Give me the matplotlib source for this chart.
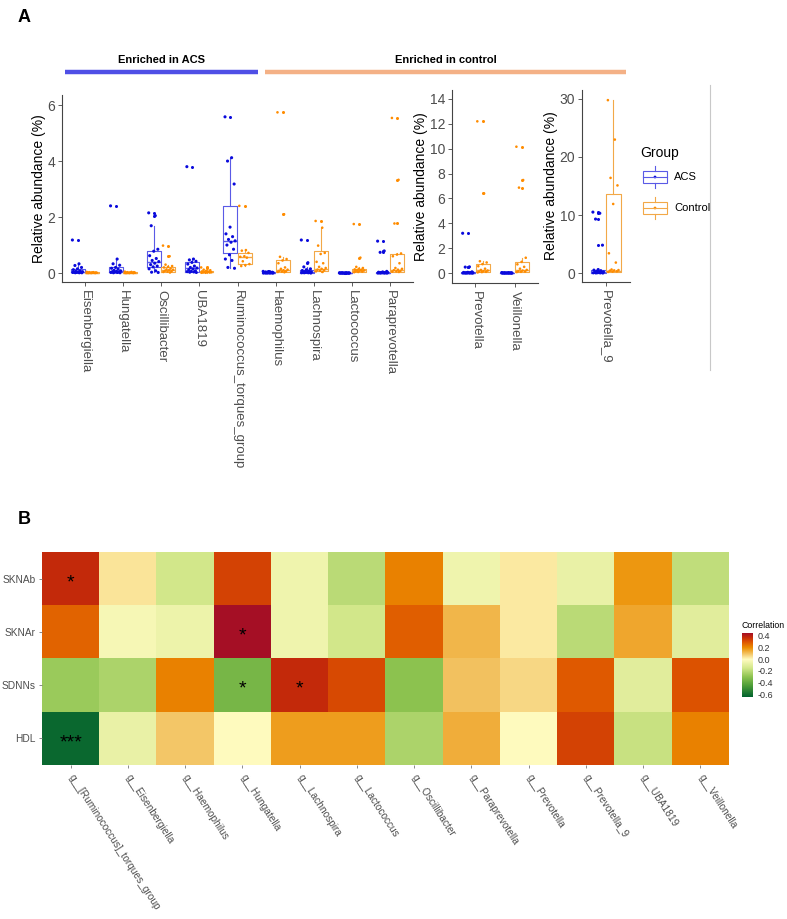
import numpy as np
import matplotlib
matplotlib.use("Agg")
import matplotlib.pyplot as plt
from matplotlib.colors import LinearSegmentedColormap, Normalize
from matplotlib.patches import Rectangle
from matplotlib.lines import Line2D

plt.rcParams['font.family'] = ['Liberation Sans', 'DejaVu Sans']

W, H = 787, 919

# ---------------- Panel A data ----------------
panel1_genera = ["Eisenbergiella", "Hungatella", "Oscillibacter", "UBA1819",
                 "Ruminococcus_torques_group", "Haemophilus", "Lachnospira",
                 "Lactococcus", "Paraprevotella"]
panel2_genera = ["Prevotella", "Veillonella"]
panel3_genera = ["Prevotella_9"]

acs_points = {
    "Eisenbergiella": [1.18, 0.33, 0.27, 0.2, 0.15, 0.12, 0.08, 0.06, 0.05, 0.04, 0.03, 0.03, 0.02, 0.02, 0.01, 0.01, 0.01],
    "Hungatella": [2.4, 0.5, 0.33, 0.28, 0.2, 0.17, 0.14, 0.1, 0.08, 0.06, 0.05, 0.04, 0.03, 0.02, 0.02, 0.01, 0.01],
    "Oscillibacter": [2.15, 2.05, 1.69, 0.85, 0.78, 0.62, 0.52, 0.45, 0.41, 0.35, 0.3, 0.25, 0.22, 0.15, 0.08, 0.03, 0.02],
    "UBA1819": [3.8, 0.5, 0.47, 0.42, 0.38, 0.32, 0.25, 0.2, 0.18, 0.15, 0.12, 0.08, 0.06, 0.05, 0.04, 0.03, 0.02],
    "Ruminococcus_torques_group": [5.58, 4.12, 4.0, 3.18, 1.64, 1.4, 1.3, 1.2, 1.15, 1.1, 1.0, 0.85, 0.65, 0.5, 0.45, 0.2, 0.17],
    "Haemophilus": [0.06, 0.05, 0.04, 0.03, 0.03, 0.02, 0.02, 0.02, 0.01, 0.01, 0.01, 0.01, 0.0, 0.0, 0.0, 0.0, 0.0],
    "Lachnospira": [1.18, 0.37, 0.22, 0.15, 0.12, 0.09, 0.07, 0.05, 0.04, 0.04, 0.03, 0.02, 0.02, 0.01, 0.01, 0.01, 0.0],
    "Lactococcus": [0.01, 0.01, 0.01, 0.0, 0.0, 0.0, 0.0, 0.0, 0.0, 0.0, 0.0, 0.0, 0.0, 0.0, 0.0, 0.0, 0.0],
    "Paraprevotella": [1.14, 0.79, 0.74, 0.06, 0.04, 0.03, 0.02, 0.02, 0.02, 0.01, 0.01, 0.01, 0.01, 0.0, 0.0, 0.0, 0.0],
    "Prevotella": [3.2, 0.5, 0.48, 0.1, 0.06, 0.05, 0.04, 0.03, 0.02, 0.02, 0.01, 0.01, 0.0, 0.0, 0.0, 0.0, 0.0],
    "Veillonella": [0.04, 0.03, 0.02, 0.02, 0.01, 0.01, 0.01, 0.01, 0.0, 0.0, 0.0, 0.0, 0.0, 0.0, 0.0, 0.0, 0.0],
    "Prevotella_9": [10.5, 10.3, 9.3, 4.8, 0.6, 0.5, 0.4, 0.3, 0.2, 0.15, 0.1, 0.08, 0.05, 0.03, 0.02, 0.01, 0.0],
}
ctrl_points = {
    "Eisenbergiella": [0.04, 0.03, 0.03, 0.02, 0.02, 0.02, 0.01, 0.01, 0.01, 0.01, 0.0, 0.0, 0.0, 0.0],
    "Hungatella": [0.05, 0.04, 0.03, 0.03, 0.02, 0.02, 0.01, 0.01, 0.01, 0.01, 0.0, 0.0, 0.0, 0.0],
    "Oscillibacter": [0.98, 0.6, 0.3, 0.25, 0.22, 0.2, 0.16, 0.13, 0.12, 0.1, 0.08, 0.06, 0.05, 0.04, 0.02],
    "UBA1819": [0.2, 0.18, 0.12, 0.1, 0.08, 0.06, 0.05, 0.04, 0.03, 0.03, 0.02, 0.02, 0.01, 0.01],
    "Ruminococcus_torques_group": [2.4, 0.82, 0.8, 0.72, 0.6, 0.58, 0.55, 0.42, 0.32, 0.28, 0.25],
    "Haemophilus": [5.74, 2.1, 0.58, 0.5, 0.45, 0.35, 0.2, 0.15, 0.12, 0.1, 0.08, 0.06, 0.05, 0.04, 0.03],
    "Lachnospira": [1.86, 1.62, 0.98, 0.72, 0.68, 0.4, 0.35, 0.22, 0.18, 0.15, 0.12, 0.1, 0.08, 0.06, 0.04],
    "Lactococcus": [1.75, 0.55, 0.22, 0.18, 0.15, 0.13, 0.12, 0.1, 0.09, 0.08, 0.06, 0.05, 0.04, 0.03],
    "Paraprevotella": [5.54, 3.33, 1.77, 0.7, 0.66, 0.6, 0.35, 0.18, 0.15, 0.12, 0.1, 0.08, 0.06, 0.05, 0.04],
    "Prevotella": [12.2, 6.4, 0.95, 0.85, 0.72, 0.55, 0.35, 0.25, 0.2, 0.15, 0.12, 0.1, 0.08, 0.05],
    "Veillonella": [10.16, 7.48, 6.87, 1.23, 0.9, 0.7, 0.5, 0.35, 0.25, 0.2, 0.15, 0.12, 0.1, 0.08],
    "Prevotella_9": [29.8, 23.0, 16.4, 15.1, 11.9, 3.4, 1.8, 0.6, 0.5, 0.45, 0.4, 0.3, 0.25, 0.2],
}
# box statistics: (whislo, q1, median, q3, whishi)
acs_box = {
    "Eisenbergiella": (0.0, 0.02, 0.04, 0.14, 0.33),
    "Hungatella": (0.0, 0.03, 0.08, 0.2, 0.5),
    "Oscillibacter": (0.02, 0.23, 0.41, 0.8, 1.69),
    "UBA1819": (0.02, 0.05, 0.17, 0.4, 0.5),
    "Ruminococcus_torques_group": (0.17, 0.7, 1.15, 2.4, 4.12),
    "Haemophilus": (0.0, 0.0, 0.01, 0.02, 0.04),
    "Lachnospira": (0.0, 0.01, 0.04, 0.1, 0.22),
    "Lactococcus": (0.0, 0.0, 0.0, 0.0, 0.0),
    "Paraprevotella": (0.0, 0.0, 0.01, 0.03, 0.06),
    "Prevotella": (0.0, 0.0, 0.02, 0.06, 0.12),
    "Veillonella": (0.0, 0.0, 0.01, 0.02, 0.04),
    "Prevotella_9": (0.0, 0.0, 0.12, 0.5, 0.6),
}
ctrl_box = {
    "Eisenbergiella": (0.0, 0.0, 0.01, 0.02, 0.04),
    "Hungatella": (0.0, 0.0, 0.01, 0.03, 0.05),
    "Oscillibacter": (0.02, 0.05, 0.12, 0.22, 0.3),
    "UBA1819": (0.01, 0.02, 0.04, 0.08, 0.12),
    "Ruminococcus_torques_group": (0.25, 0.32, 0.58, 0.7, 0.82),
    "Haemophilus": (0.03, 0.05, 0.12, 0.46, 0.58),
    "Lachnospira": (0.04, 0.09, 0.15, 0.77, 1.62),
    "Lactococcus": (0.03, 0.05, 0.1, 0.16, 0.22),
    "Paraprevotella": (0.04, 0.05, 0.12, 0.68, 0.7),
    "Prevotella": (0.05, 0.1, 0.25, 0.75, 0.95),
    "Veillonella": (0.08, 0.1, 0.24, 0.85, 1.23),
    "Prevotella_9": (0.2, 0.22, 0.4, 13.6, 29.8),
}
panel_ylims = [(-0.32, 6.36), (-0.8, 14.72), (-1.55, 31.55)]
panel_yticks = [[0, 2, 4, 6], [0, 2, 4, 6, 8, 10, 12, 14], [0, 10, 20, 30]]
groups = ["ACS", "Control"]

# ---------------- Panel B data ----------------
heat_rows = ["SKNAb", "SKNAr", "SDNNs", "HDL"]
heat_cols = ["g__[Ruminococcus]_torques_group", "g__Eisenbergiella", "g__Haemophilus",
             "g__Hungatella", "g__Lachnospira", "g__Lactococcus", "g__Oscillibacter",
             "g__Paraprevotella", "g__Prevotella", "g__Prevotella_9", "g__UBA1819",
             "g__Veillonella"]
heat_SKNAb = [0.38, 0.04, -0.15, 0.33, -0.05, -0.2, 0.22, -0.05, 0.03, -0.07, 0.18, -0.19]
heat_SKNAr = [0.27, -0.03, -0.06, 0.45, -0.05, -0.15, 0.28, 0.12, 0.03, -0.2, 0.15, -0.1]
heat_SDNNs = [-0.27, -0.23, 0.22, -0.35, 0.38, 0.32, -0.3, 0.1, 0.06, 0.29, -0.1, 0.3]
heat_HDL = [-0.62, -0.07, 0.09, 0.0, 0.17, 0.17, -0.23, 0.14, 0.0, 0.33, -0.17, 0.22]
star_SKNAb = ["*", "", "", "", "", "", "", "", "", "", "", ""]
star_SKNAr = ["", "", "", "*", "", "", "", "", "", "", "", ""]
star_SDNNs = ["", "", "", "*", "*", "", "", "", "", "", "", ""]
star_HDL = ["***", "", "", "", "", "", "", "", "", "", "", ""]
cbar_ticks = [0.4, 0.2, 0.0, -0.2, -0.4, -0.6]

# ---------------- styling ----------------
ACS_PT = "#0A0ADC"
CTL_PT = "#FF8C00"
ACS_BOX = "#5A5AE6"
CTL_BOX = "#F2A848"
AX_COL = "#444444"
TXT_COL = "#4D4D4D"

def fx(x):
    return x / W

def fy(y):
    return 1 - y / H

def px_axes(l, t, r, b):
    return [fx(l), fy(b), (r - l) / W, (b - t) / H]

fig = plt.figure(figsize=(W / 100, H / 100), dpi=100)

fig.text(fx(18), fy(17), "A", fontsize=13, fontweight="bold", va="center", ha="left")
fig.text(fx(18), fy(520), "B", fontsize=13, fontweight="bold", va="center", ha="left")

# header bars
fig.add_artist(Line2D([fx(65), fx(258)], [fy(72), fy(72)], color="#4F4FE6", lw=3.2, solid_capstyle="butt"))
fig.add_artist(Line2D([fx(265), fx(626)], [fy(72), fy(72)], color="#F4B186", lw=3.2, solid_capstyle="butt"))
fig.text(fx(162), fy(60), "Enriched in ACS", fontsize=8, fontweight="bold", ha="center", va="center")
fig.text(fx(446), fy(60), "Enriched in control", fontsize=8, fontweight="bold", ha="center", va="center")

# gray separator
fig.add_artist(Line2D([fx(710), fx(710)], [fy(85), fy(370)], color="#C8C8C8", lw=0.8))

axes_px = [(62, 95, 413, 282), (452, 90, 538, 283), (582, 90, 630, 282)]
panels = [panel1_genera, panel2_genera, panel3_genera]

golden = 0.6180339887

for pi, (genera, rect) in enumerate(zip(panels, axes_px)):
    ax = fig.add_axes(px_axes(*rect))
    n = len(genera)
    for gi, g in enumerate(genera):
        xc = gi + 1
        for grp, pts_d, box_d, pcol, bcol, off in [
            ("ACS", acs_points, acs_box, ACS_PT, ACS_BOX, -0.1875),
            ("Control", ctrl_points, ctrl_box, CTL_PT, CTL_BOX, 0.1875)]:
            lo, q1, med, q3, hi = box_d[g]
            pts = np.array(pts_d[g])
            fliers = pts[(pts > hi + 1e-9) | (pts < lo - 1e-9)]
            stats = [dict(med=med, q1=q1, q3=q3, whislo=lo, whishi=hi, fliers=fliers)]
            ax.bxp(stats, positions=[xc + off], widths=0.36, showfliers=True,
                   boxprops=dict(color=bcol, lw=0.8),
                   medianprops=dict(color=bcol, lw=1.0),
                   whiskerprops=dict(color=bcol, lw=0.8),
                   capprops=dict(lw=0),
                   flierprops=dict(marker="o", markersize=2.2, markerfacecolor=pcol,
                                   markeredgecolor="none"),
                   manage_ticks=False)
            jit = np.array([((k * golden) % 1.0) - 0.5 for k in range(len(pts))]) * 0.28
            ax.scatter(xc + off + jit, pts, s=5 if grp == "ACS" else 3.5,
                       color=pcol, edgecolors="none", zorder=3)
    ax.set_xlim(0.4, n + 0.6)
    ax.set_ylim(*panel_ylims[pi])
    ax.set_yticks(panel_yticks[pi])
    ax.set_xticks(np.arange(1, n + 1))
    ax.set_xticklabels(genera, rotation=270, ha="center", va="top", fontsize=9.5, color=TXT_COL)
    ax.tick_params(axis="y", labelsize=10, labelcolor=TXT_COL, color=AX_COL, length=3, width=0.6, pad=2)
    ax.tick_params(axis="x", color=AX_COL, length=3, width=0.6, pad=3)
    for s in ["top", "right"]:
        ax.spines[s].set_visible(False)
    for s in ["left", "bottom"]:
        ax.spines[s].set_color(AX_COL)
        ax.spines[s].set_linewidth(0.8)
    ax.set_ylabel("Relative abundance (%)", fontsize=10, color="black", labelpad=1)
    ax.patch.set_alpha(0)

# legend
fig.text(fx(640), fy(153), "Group", fontsize=10, ha="left", va="center")
lax = fig.add_axes(px_axes(635, 160, 720, 230))
lax.set_xlim(635, 720)
lax.set_ylim(230, 160)
lax.axis("off")
for yc, bcol, pcol, lab in [(177, ACS_BOX, ACS_PT, "ACS"), (208, CTL_BOX, CTL_PT, "Control")]:
    lax.add_patch(Rectangle((643, yc - 6), 24, 12, fill=False, edgecolor=bcol, lw=0.8))
    lax.plot([643, 667], [yc, yc], color=bcol, lw=0.8)
    lax.plot([655, 655], [yc - 11, yc - 6], color=bcol, lw=0.8)
    lax.plot([655, 655], [yc + 6, yc + 11], color=bcol, lw=0.8)
    lax.scatter([655], [yc], s=4, color=pcol, edgecolors="none")
    lax.text(674, yc, lab, fontsize=8, ha="left", va="center")

# ---------------- Panel B ----------------
stops = [(-0.65, "#00612E"), (-0.45, "#4E9E38"), (-0.3, "#8DC350"), (-0.15, "#D2E78A"),
         (0.0, "#FFFBC0"), (0.1, "#F3C260"), (0.2, "#EC8E00"), (0.3, "#DE5400"),
         (0.38, "#C42A0A"), (0.45, "#A50F25")]
vmin, vmax = -0.65, 0.45
cmap = LinearSegmentedColormap.from_list(
    "corr", [((v - vmin) / (vmax - vmin), c) for v, c in stops])
norm = Normalize(vmin=vmin, vmax=vmax)

mat = np.array([heat_SKNAb, heat_SKNAr, heat_SDNNs, heat_HDL])
stars = [star_SKNAb, star_SKNAr, star_SDNNs, star_HDL]

hax = fig.add_axes(px_axes(42, 552, 729, 765))
im = hax.imshow(mat, cmap=cmap, norm=norm, aspect="auto", interpolation="nearest")
for r in range(mat.shape[0]):
    for c in range(mat.shape[1]):
        if stars[r][c]:
            hax.text(c, r + 0.08, stars[r][c], ha="center", va="center", fontsize=14, color="black")
hax.set_xticks(np.arange(len(heat_cols)))
hax.set_xticklabels(heat_cols, rotation=-57, ha="left", va="center",
                    rotation_mode="anchor", fontsize=7.3, color=TXT_COL)
hax.set_yticks(np.arange(len(heat_rows)))
hax.set_yticklabels(heat_rows, fontsize=7.3, color=TXT_COL)
hax.tick_params(axis="both", color="#777777", length=2.5, width=0.6, pad=2)
hax.tick_params(axis="x", pad=5)
for s in hax.spines.values():
    s.set_visible(False)

cax = fig.add_axes(px_axes(742, 633, 753, 697))
cb = fig.colorbar(im, cax=cax, ticks=cbar_ticks)
cb.outline.set_visible(False)
cb.ax.set_yticklabels([f"{t:.1f}" for t in cbar_ticks])
cb.ax.tick_params(labelsize=6.5, length=2, color="white", width=0.6, pad=1.5, labelcolor="#333333")
fig.text(fx(741), fy(625), "Correlation", fontsize=6.3, ha="left", va="center")

fig.savefig("out.png", dpi=100)
